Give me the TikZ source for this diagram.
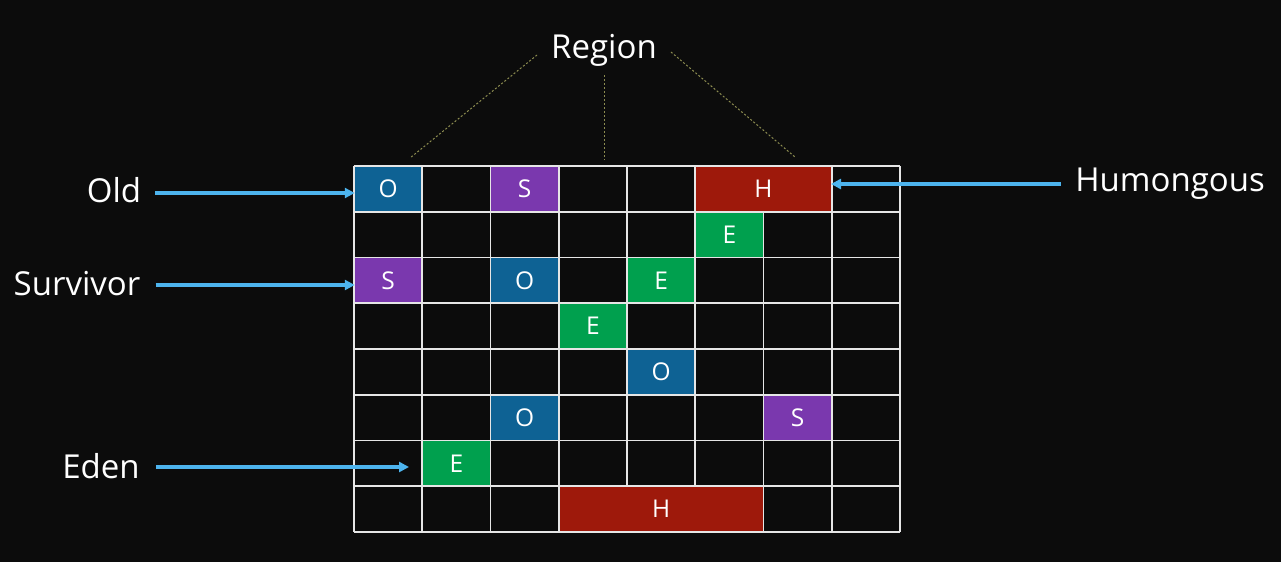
\documentclass[tikz,border=0pt]{standalone}
\usepackage{fontspec}
\setmainfont{Open Sans}
\usetikzlibrary{arrows.meta}
\definecolor{bg}{HTML}{0C0C0C}
\definecolor{oldc}{HTML}{0E6294}
\definecolor{survc}{HTML}{7A38AE}
\definecolor{edenc}{HTML}{00A04E}
\definecolor{humc}{HTML}{9E190B}
\definecolor{arrc}{HTML}{4DB4EE}
\definecolor{dashc}{HTML}{8C8C50}
\definecolor{gridc}{HTML}{E6E6E6}
\tikzset{
  gridline/.style={draw=gridc, line width=1.8pt},
  cellbox/.style={inner sep=0pt, minimum height=43.9pt, text=white, font=\fontsize{24.5}{26}\selectfont},
  lbl/.style={text=white, inner sep=0pt, font=\fontsize{33}{36}\selectfont},
  arr/.style={draw=arrc, line width=3.2pt, -{Triangle[length=10pt,width=10pt]}},
  regionline/.style={draw=dashc, line width=1pt, dash pattern=on 2pt off 2pt}
}
\begin{document}
\begin{tikzpicture}[x=1pt,y=-1pt]
\fill[bg] (0,0) rectangle (1281,562);
\useasboundingbox (0,0) rectangle (1281,562);
% grid
\foreach \i in {0,...,8} {
  \draw[gridline] ({354+68.25*\i},166) -- ({354+68.25*\i},532);
  \draw[gridline] (354,{166+45.75*\i}) -- (900,{166+45.75*\i});
}
% cells
\foreach \n/\c/\r/\s/\col/\t in {
  o1/0/0/1/oldc/O, s1/2/0/1/survc/S, h1/5/0/2/humc/H,
  e1/5/1/1/edenc/E,
  s2/0/2/1/survc/S, o2/2/2/1/oldc/O, e2/4/2/1/edenc/E,
  e3/3/3/1/edenc/E,
  o3/4/4/1/oldc/O,
  o4/2/5/1/oldc/O, s3/6/5/1/survc/S,
  e4/1/6/1/edenc/E,
  h2/3/7/3/humc/H} {
  \node[cellbox, fill=\col, minimum width={68.25*\s-1.9}] (\n)
    at ({354+68.25*(\c+\s/2)},{166+45.75*(\r+0.5)}) {\t};
}
% labels
\node[lbl] (region) at (604,50) {Region};
\node[lbl] (old) at (114,190) {Old};
\node[lbl] (surv) at (77,284) {Survivor};
\node[lbl] (eden) at (101,466) {Eden};
\node[lbl] (hum) at (1170,184) {Humongous};
% arrows
\draw[arr] ([xshift=14pt]old.east |- 0,193) -- (o1.west |- 0,193);
\draw[arr] ([xshift=15pt]surv.east |- 0,285) -- (s2.west |- 0,285);
\draw[arr] ([xshift=16pt]eden.east |- 0,467) -- ([xshift=-14pt]e4.west |- 0,467);
\draw[arr] ([xshift=-14pt]hum.west) -- (h1.east |- hum.west);
% region lines
\coordinate (ra) at (410,158);
\coordinate (rb) at (604,160);
\coordinate (rc) at (795,157);
\draw[regionline] ([shift={(-14,5)}]region.west) -- (ra);
\draw[regionline] (region.south |- 0,75) -- (rb);
\draw[regionline] ([shift={(14,2)}]region.east) -- (rc);
\end{tikzpicture}
\end{document}
